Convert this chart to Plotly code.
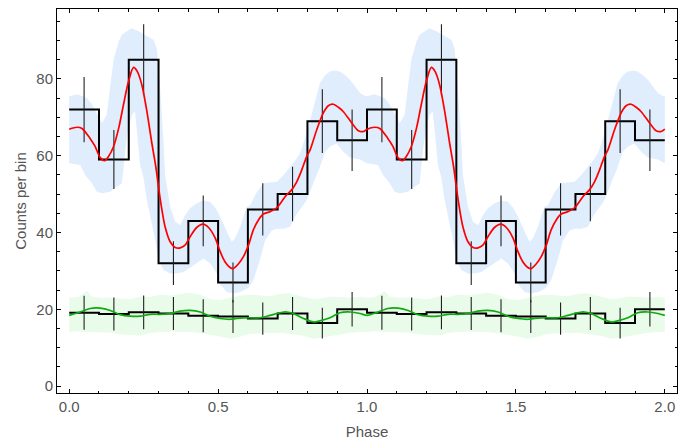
import plotly.graph_objects as go

# ---------------- data (one phase cycle, shown twice) ----------------
bin_edges = [0.0, 0.1, 0.2, 0.3, 0.4, 0.5, 0.6, 0.7, 0.8, 0.9]
src_counts = [72, 59, 85, 32, 43, 27, 46, 50, 69, 64]
src_err = [8.5, 7.7, 9.2, 5.7, 6.6, 5.2, 6.8, 7.1, 8.3, 8.0]
bkg_counts = [19.1, 18.8, 19.2, 18.9, 18.3, 18.1, 17.6, 18.9, 16.4, 20.0]
bkg_err = [4.4, 4.3, 4.4, 4.3, 4.3, 4.3, 4.2, 4.3, 4.0, 4.5]

red_phase = [0.000, 0.026, 0.043, 0.070, 0.087, 0.104, 0.119, 0.132, 0.149, 0.166,
             0.182, 0.199, 0.216, 0.229, 0.244, 0.261, 0.277, 0.291, 0.305, 0.322,
             0.339, 0.356, 0.373, 0.389, 0.406, 0.428, 0.449, 0.468, 0.490, 0.507,
             0.523, 0.540, 0.551, 0.568, 0.585, 0.602, 0.618, 0.635, 0.652, 0.674,
             0.697, 0.713, 0.730, 0.747, 0.764, 0.781, 0.797, 0.809, 0.831, 0.853,
             0.870, 0.887, 0.904, 0.920, 0.937, 0.954, 0.971, 0.988]
red_rate = [66.9, 67.4, 67.1, 64.5, 62.4, 59.5, 58.7, 59.8, 62.4, 67.1,
            73.2, 79.3, 83.0, 81.9, 78.4, 71.5, 63.5, 57.0, 49.0, 41.5,
            37.6, 36.1, 36.0, 36.7, 38.9, 41.3, 42.2, 41.3, 38.6, 35.0,
            32.4, 30.9, 30.6, 31.8, 33.7, 36.7, 40.6, 43.2, 44.8, 45.4,
            46.4, 48.0, 49.8, 51.1, 53.2, 56.3, 59.7, 61.5, 66.7, 71.1,
            73.0, 73.4, 72.6, 71.5, 69.8, 68.0, 66.5, 66.3]

blue_up_phase = [0.000, 0.026, 0.045, 0.059, 0.075, 0.093, 0.110, 0.126, 0.138, 0.149,
                 0.166, 0.177, 0.194, 0.210, 0.233, 0.261, 0.283, 0.294, 0.305, 0.317,
                 0.322, 0.339, 0.356, 0.373, 0.389, 0.406, 0.428, 0.450, 0.473, 0.490,
                 0.507, 0.535, 0.546, 0.557, 0.574, 0.585, 0.596, 0.607, 0.630, 0.652,
                 0.675, 0.697, 0.720, 0.742, 0.760, 0.775, 0.792, 0.809, 0.825, 0.842,
                 0.860, 0.876, 0.893, 0.909, 0.926, 0.943, 0.960, 0.977, 0.990]
blue_up = [75.5, 76.0, 75.5, 75.0, 73.5, 71.0, 68.5, 70.6, 78.0, 85.0,
           89.7, 91.5, 92.4, 93.2, 92.4, 91.1, 90.2, 88.0, 78.0, 63.0,
           55.0, 46.7, 42.8, 41.9, 44.5, 46.3, 47.6, 48.3, 48.0, 46.5,
           44.1, 39.3, 37.6, 38.5, 41.5, 44.1, 46.7, 47.0, 50.5, 52.8,
           53.0, 53.2, 55.0, 57.1, 58.8, 60.6, 64.5, 69.3, 74.0, 78.9,
           81.0, 81.9, 82.2, 81.9, 81.0, 79.8, 78.0, 76.3, 75.7]

blue_lo_phase = [0.000, 0.020, 0.037, 0.054, 0.076, 0.093, 0.110, 0.138, 0.160, 0.177,
                 0.182, 0.188, 0.196, 0.210, 0.221, 0.233, 0.238, 0.249, 0.261, 0.272,
                 0.289, 0.300, 0.317, 0.339, 0.361, 0.384, 0.417, 0.451, 0.473, 0.496,
                 0.507, 0.529, 0.551, 0.575, 0.600, 0.618, 0.641, 0.658, 0.680, 0.697,
                 0.720, 0.742, 0.758, 0.780, 0.797, 0.820, 0.842, 0.859, 0.876, 0.898,
                 0.920, 0.943, 0.977, 0.999]
blue_lo = [58.0, 57.8, 57.6, 55.0, 52.8, 50.6, 50.2, 50.6, 51.9, 52.8,
           55.4, 61.5, 66.0, 70.6, 71.5, 61.9, 57.6, 54.5, 48.4, 44.1,
           38.0, 32.8, 30.2, 29.3, 29.3, 29.7, 31.5, 33.2, 31.9, 29.3,
           26.5, 24.5, 24.1, 24.5, 25.5, 27.5, 33.0, 38.0, 40.5, 41.0,
           41.0, 41.5, 44.1, 46.5, 48.4, 52.8, 57.1, 61.0, 62.4, 63.2,
           61.1, 59.5, 59.0, 58.0]

green_phase = [0.000, 0.037, 0.070, 0.104, 0.138, 0.171, 0.205, 0.238, 0.272, 0.305,
               0.339, 0.372, 0.406, 0.440, 0.473, 0.507, 0.540, 0.563, 0.607, 0.641,
               0.674, 0.708, 0.730, 0.753, 0.787, 0.820, 0.842, 0.876, 0.909, 0.943,
               0.977]
green_rate = [18.4, 19.3, 20.2, 20.3, 19.7, 18.6, 18.2, 18.2, 18.7, 18.7,
              18.9, 19.5, 19.7, 19.3, 18.2, 17.6, 17.4, 17.6, 17.8, 17.8,
              18.4, 19.1, 19.3, 18.9, 17.6, 16.7, 17.0, 17.8, 19.1, 19.3,
              18.9]

gband_phase = [0.000, 0.030, 0.059, 0.075, 0.104, 0.140, 0.170, 0.205, 0.240, 0.272,
               0.305, 0.340, 0.372, 0.406, 0.440, 0.473, 0.507, 0.540, 0.570, 0.607,
               0.641, 0.674, 0.708, 0.740, 0.787, 0.820, 0.850, 0.876, 0.909, 0.943,
               0.977]
gband_up = [23.0, 23.2, 24.8, 23.3, 23.0, 23.1, 22.8, 22.6, 23.3, 23.2,
            23.8, 23.6, 24.0, 24.3, 23.8, 22.6, 22.4, 22.9, 23.5, 23.8,
            23.6, 23.4, 24.0, 24.2, 23.2, 22.7, 22.9, 23.3, 23.2, 23.0,
            23.2]
gband_lo = [14.1, 14.3, 14.0, 14.1, 14.1, 13.9, 13.5, 13.3, 13.2, 13.8,
            14.1, 14.2, 14.1, 14.0, 13.8, 13.3, 12.9, 12.3, 12.8, 13.6,
            13.7, 13.8, 13.9, 13.5, 13.1, 12.3, 12.6, 13.0, 13.5, 13.9,
            14.1]

x_ticks = [0.0, 0.5, 1.0, 1.5, 2.0]
x_ticklabels = ["0.0", "0.5", "1.0", "1.5", "2.0"]
y_ticks = [0, 20, 40, 60, 80]
y_ticklabels = ["0", "20", "40", "60", "80"]


def two_cycles(ph, vals):
    xs = list(ph) + [p + 1 for p in ph] + [2.0]
    ys = list(vals) + list(vals) + [vals[0]]
    return xs, ys


def band(ph_up, up, ph_lo, lo):
    xu, yu = two_cycles(ph_up, up)
    xl, yl = two_cycles(ph_lo, lo)
    return xu + xl[::-1], yu + yl[::-1]


fig = go.Figure()

# confidence bands
bx, by = band(blue_up_phase, blue_up, blue_lo_phase, blue_lo)
fig.add_trace(go.Scatter(x=bx, y=by, fill="toself", fillcolor="#dfedfd",
                         line=dict(width=0), mode="lines", hoverinfo="skip"))
gx, gy = band(gband_phase, gband_up, gband_phase, gband_lo)
fig.add_trace(go.Scatter(x=gx, y=gy, fill="toself", fillcolor="#e9fbe9",
                         line=dict(width=0), mode="lines", hoverinfo="skip"))

# histograms (step)
edges_all = list(bin_edges) + [e + 1 for e in bin_edges] + [2.0]
for counts in (src_counts, bkg_counts):
    ys = list(counts) + list(counts) + [counts[-1]]
    fig.add_trace(go.Scatter(x=edges_all, y=ys, mode="lines", line_shape="hv",
                             line=dict(color="black", width=2)))

# error bars at bin centres
centres = [e + 0.05 for e in bin_edges] + [e + 1.05 for e in bin_edges]
for counts, errs in ((src_counts, src_err), (bkg_counts, bkg_err)):
    fig.add_trace(go.Scatter(x=centres, y=list(counts) * 2, mode="markers",
                             marker=dict(size=0.1, color="rgba(0,0,0,0)"),
                             error_y=dict(type="data", array=list(errs) * 2, visible=True,
                                          color="#222222", thickness=1.1, width=0)))

# smooth curves
rx, ry = two_cycles(red_phase, red_rate)
fig.add_trace(go.Scatter(x=rx, y=ry, mode="lines", line_shape="spline",
                         line=dict(color="#ff0000", width=1.7, smoothing=0.8)))
gcx, gcy = two_cycles(green_phase, green_rate)
fig.add_trace(go.Scatter(x=gcx, y=gcy, mode="lines", line_shape="spline",
                         line=dict(color="#10aa10", width=1.7, smoothing=0.8)))

axis_common = dict(showline=True, linecolor="black", linewidth=1, mirror="ticks",
                   ticks="inside", ticklen=4, tickcolor="black", tickwidth=1,
                   showgrid=False, zeroline=False, automargin=False,
                   tickfont=dict(family="Liberation Sans, Arial", size=15, color="#555555"))

fig.update_layout(
    width=699, height=443,
    margin=dict(l=57, r=22, t=9, b=50),
    plot_bgcolor="white", paper_bgcolor="white",
    showlegend=False,
    font=dict(family="Liberation Sans, Arial", color="#555555"),
    xaxis=dict(range=[-0.041, 2.041], tickvals=x_ticks, ticktext=x_ticklabels,
               minor=dict(ticks="inside", ticklen=2.5, dtick=0.1, tick0=0, tickcolor="black"),
               title=dict(text="Phase", font=dict(size=15, color="#555555"), standoff=12),
               **axis_common),
    yaxis=dict(range=[-1.8, 98.2], tickvals=y_ticks, ticktext=y_ticklabels,
               minor=dict(ticks="inside", ticklen=2.5, dtick=5, tick0=0, tickcolor="black"),
               title=dict(text="Counts per bin", font=dict(size=15, color="#555555"), standoff=6),
               **axis_common),
)

fig.write_html("out.html")
